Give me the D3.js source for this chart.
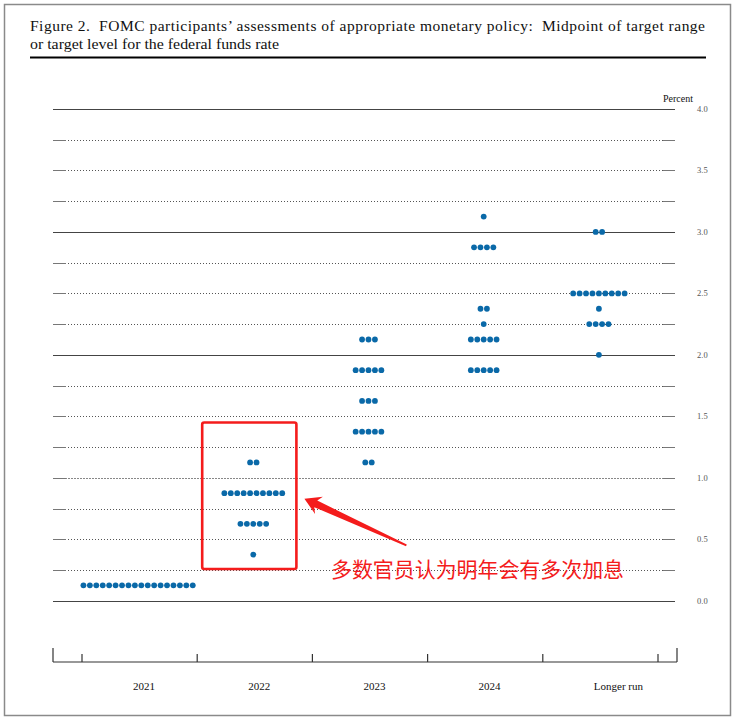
<!DOCTYPE html>
<html><head><meta charset="utf-8">
<script src="https://cdn.jsdelivr.net/npm/d3@7"></script>
<style>body{margin:0;background:#fff}svg{display:block}.sf{font-family:"Liberation Serif","Times New Roman","DejaVu Serif",serif}</style>
</head><body>
<svg id="c" width="744" height="725"></svg>
<script>
// ---- data ----
const categories = ["2021", "2022", "2023", "2024", "Longer run"];
// [rate midpoint, number of participants]
const dots2021 = [[0.125, 18]];
const dots2022 = [[1.125, 2], [0.875, 10], [0.625, 5], [0.375, 1]];
const dots2023 = [[2.125, 3], [1.875, 5], [1.625, 3], [1.375, 5], [1.125, 2]];
const dots2024 = [[3.125, 1], [2.875, 4], [2.375, 2], [2.25, 1], [2.125, 5], [1.875, 5]];
const dotsLonger = [[3.0, 2], [2.5, 9], [2.375, 1], [2.25, 4], [2.0, 1]];
const gridValues = d3.range(0, 17).map(i => i * 0.25);
const tickLabels = ["0.0", "0.5", "1.0", "1.5", "2.0", "2.5", "3.0", "3.5", "4.0"];
const titleLine1 = "Figure 2.\u00a0\u00a0FOMC participants\u2019 assessments of appropriate monetary policy:\u00a0\u00a0Midpoint of target range";
const titleLine2 = "or target level for the federal funds rate";
const note = "多数官员认为明年会有多次加息";

const seriesByCat = {"2021": dots2021, "2022": dots2022, "2023": dots2023, "2024": dots2024, "Longer run": dotsLonger};

// ---- layout ----
const svg = d3.select("#c");
const x = d3.scaleBand().domain(categories).range([82, 658]);
const y = d3.scaleLinear().domain([0, 4]).range([600.7, 109]);
const gridL = 53, gridR = 675;

// frame
svg.append("rect").attr("x", 4.5).attr("y", 4.5).attr("width", 726).attr("height", 711)
  .attr("fill", "none").attr("stroke", "#8a8a8a").attr("stroke-width", 1.5);

// title
svg.append("text").attr("class", "sf").attr("x", 30).attr("y", 31).style("font-size", "15.5px")
  .attr("textLength", 675).attr("lengthAdjust", "spacing").attr("fill", "#111").text(titleLine1);
svg.append("text").attr("class", "sf").attr("x", 30).attr("y", 49).style("font-size", "15.5px")
  .attr("textLength", 249).attr("lengthAdjust", "spacingAndGlyphs").attr("fill", "#111").text(titleLine2);
svg.append("line").attr("x1", 30).attr("x2", 706).attr("y1", 57.5).attr("y2", 57.5)
  .attr("stroke", "#000").attr("stroke-width", 2);

// grid
const grid = svg.append("g");
gridValues.forEach(v => {
  const yy = Math.round(y(v)) + 0.5;
  const whole = Math.abs(v - Math.round(v)) < 1e-9;
  if (whole && v !== 1) {
    grid.append("line").attr("x1", gridL).attr("x2", gridR).attr("y1", yy).attr("y2", yy)
      .attr("stroke", "#444").attr("stroke-width", 1);
  } else {
    grid.append("line").attr("x1", gridL).attr("x2", gridR).attr("y1", yy).attr("y2", yy)
      .attr("stroke", v === 1 ? "#888" : "#555").attr("stroke-width", 1)
      .attr("stroke-dasharray", v === 1 ? "2,1" : "1,2");
    grid.append("line").attr("x1", gridL).attr("x2", gridL + 13).attr("y1", yy).attr("y2", yy)
      .attr("stroke", "#777").attr("stroke-width", 1);
    grid.append("line").attr("x1", gridR - 12).attr("x2", gridR).attr("y1", yy).attr("y2", yy)
      .attr("stroke", "#777").attr("stroke-width", 1);
  }
});

// right tick labels
svg.append("g").selectAll("text").data(tickLabels).join("text").attr("class", "sf")
  .attr("x", 697).attr("y", d => y(+d)).attr("dy", "0.35em")
  .style("font-size", "8.5px").attr("fill", "#555").text(d => d);
svg.append("text").attr("class", "sf").attr("x", 693).attr("y", 102).attr("text-anchor", "end")
  .style("font-size", "10px").attr("fill", "#111").text("Percent");

// bottom axis
const ax = svg.append("g").attr("stroke", "#333").attr("stroke-width", 1.2);
const baseY = 662;
ax.append("line").attr("x1", gridL).attr("x2", 677).attr("y1", baseY).attr("y2", baseY);
ax.append("line").attr("x1", gridL).attr("x2", gridL).attr("y1", 648).attr("y2", baseY);
ax.append("line").attr("x1", 677).attr("x2", 677).attr("y1", 648).attr("y2", baseY);
const bounds = categories.map(c => x(c)).concat([x.range()[1]]);
ax.selectAll("line.t").data(bounds).join("line").attr("class", "t")
  .attr("x1", d => d).attr("x2", d => d).attr("y1", 654).attr("y2", baseY);
svg.append("g").selectAll("text").data(categories).join("text").attr("class", "sf")
  .attr("x", d => x(d) + 51).attr("y", 690)
  .style("font-size", "11px").attr("fill", "#111").text(d => d);

// dots
const spacing = 6.43;
const allDots = [];
categories.forEach(c => {
  seriesByCat[c].forEach(([rate, n]) => {
    for (let i = 0; i < n; i++) {
      allDots.push({cat: c, rate, off: (i - (n - 1) / 2) * spacing});
    }
  });
});
svg.append("g").selectAll("circle").data(allDots).join("circle")
  .attr("cx", d => x(d.cat) + x.bandwidth() / 2 - 1.5 + d.off)
  .attr("cy", d => y(d.rate))
  .attr("r", 2.9).attr("fill", "#0a69a8");

// annotation box around 2022
const bx0 = x("2022") + 5, bx1 = x("2022") + x.bandwidth() - 16;
const by0 = y(1.45), by1 = y(0.25) - 1;
svg.append("rect").attr("x", bx0).attr("y", by0).attr("width", bx1 - bx0).attr("height", by1 - by0)
  .attr("rx", 2).attr("fill", "none").attr("stroke", "#f41c1c").attr("stroke-width", 2.6);

// arrow
const tip = [bx1 + 8, y(0.83)], tail = [bx1 + 110, y(0.45)];
const L = Math.hypot(tail[0] - tip[0], tail[1] - tip[1]);
const u = [(tail[0] - tip[0]) / L, (tail[1] - tip[1]) / L];
const nrm = [-u[1], u[0]];
const P = (t, s) => [tip[0] + u[0] * t + nrm[0] * s, tip[1] + u[1] * t + nrm[1] * s];
const pts = [P(0, 0), P(16, 9.4), P(12.5, 3.6), P(L, 0.9), P(L, -0.9), P(12.5, -3.6), P(16, -9.4)];
svg.append("polygon").attr("points", pts.map(p => p.join(",")).join(" ")).attr("fill", "#f41c1c");

// note text
svg.append("text").attr("x", 331).attr("y", 577)
  .style("font-family", "'Noto Sans CJK SC', sans-serif").style("font-size", "21px")
  .attr("textLength", 293).attr("lengthAdjust", "spacingAndGlyphs")
  .attr("fill", "#f41c1c").text(note);
</script>
</body></html>
